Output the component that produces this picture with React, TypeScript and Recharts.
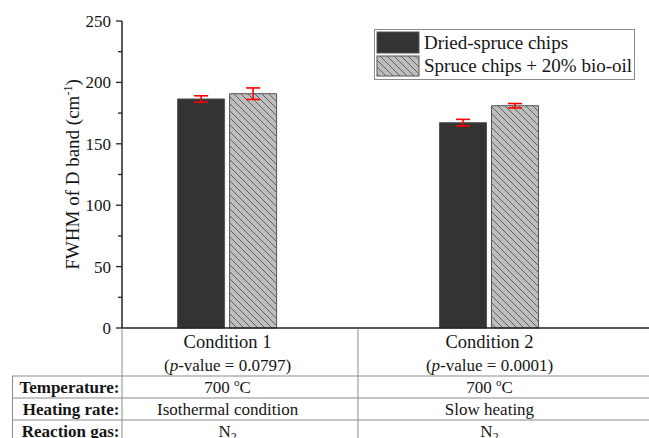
import React from 'react';
import { BarChart, Bar, XAxis, YAxis, ErrorBar, Legend } from 'recharts';

const categories = ['Condition 1', 'Condition 2'];
const pValues = ['0.0797', '0.0001'];
const driedSpruce = [186.5, 167.2];
const driedSpruceErr = [2.6, 2.7];
const bioOilBlend = [190.8, 181.0];
const bioOilBlendErr = [4.7, 1.8];
const temperatures = ['700', '700'];
const heatingRates = ['Isothermal condition', 'Slow heating'];
const reactionGases = ['N2', 'N2'];
const rowHeaders = ['Temperature:', 'Heating rate:', 'Reaction gas:'];
const seriesNames = ['Dried-spruce chips', 'Spruce chips + 20% bio-oil'];
const yTicks = [0, 25, 50, 75, 100, 125, 150, 175, 200, 225, 250];
const xPositions = [1, 2];

const data = categories.map((c, i) => ({
  pos: xPositions[i],
  name: c,
  dried: driedSpruce[i],
  driedErr: driedSpruceErr[i],
  oil: bioOilBlend[i],
  oilErr: bioOilBlendErr[i],
}));

const FONT = '"Liberation Serif", "Times New Roman", Times, serif';
const TXT = '#151515';
const serif = (size: number, extra: any = {}) => ({ fontFamily: FONT, fontSize: size, ...extra });

const renderFormula = (s: string) =>
  s.split(/(\d+)/).filter(Boolean).map((part, k) =>
    /\d/.test(part) ? (
      <tspan key={k} dy={4} style={{ fontSize: 12 }}>{part}</tspan>
    ) : (
      <tspan key={k}>{part}</tspan>
    )
  );

const CategoryTick = (props: any) => {
  const { x, y, payload } = props;
  const i = xPositions.indexOf(payload.value);
  if (i < 0) return null;
  return (
    <g>
      <text x={x} y={y + 20} textAnchor="middle" fill={TXT} style={serif(18.5)}>{categories[i]}</text>
      <text x={x} y={y + 43} textAnchor="middle" fill={TXT} style={serif(17)}>
        (<tspan style={{ fontStyle: 'italic' }}>p</tspan>-value = {pValues[i]})
      </text>
      <text x={x} y={y + 64.5} textAnchor="middle" fill={TXT} style={serif(17)}>
        {temperatures[i]} <tspan dy={-7} style={{ fontSize: 11 }}>o</tspan>
        <tspan dy={7}>C</tspan>
      </text>
      <text x={x} y={y + 86.5} textAnchor="middle" fill={TXT} style={serif(17)}>{heatingRates[i]}</text>
      <text x={x} y={y + 108.5} textAnchor="middle" fill={TXT} style={serif(17)}>{renderFormula(reactionGases[i])}</text>
    </g>
  );
};

const LeftTick = (props: any) => {
  const { x, y, payload } = props;
  const major = payload.value % 50 === 0;
  return (
    <g>
      <line x1={x - (major ? 6 : 4)} x2={x} y1={y} y2={y} stroke="#222" strokeWidth={1.3} />
      {major && (
        <text x={x - 11} y={y + 6} textAnchor="end" fill={TXT} style={serif(17)}>
          {payload.value}
        </text>
      )}
    </g>
  );
};

const RightTick = (props: any) => {
  const { x, y, payload } = props;
  const major = payload.value % 50 === 0;
  return (
    <line x1={x - (major ? 4 : 2)} x2={x} y1={y} y2={y} stroke={major ? '#222' : '#bbb'} strokeWidth={1.3} />
  );
};

const HatchDef = ({ id }: { id: string }) => (
  <pattern id={id} patternUnits="userSpaceOnUse" width={7} height={7}>
    <rect width={7} height={7} fill="#bdbdbd" />
    <path d="M-1,-1 L8,8 M-1,6 L1,8 M6,-1 L8,1" stroke="#4a4a4a" strokeWidth={0.8} />
  </pattern>
);

const LegendContent = () => (
  <svg width={262} height={52} style={{ display: 'block' }}>
    <defs>
      <HatchDef id="hatchLegend" />
    </defs>
    <rect x={0.5} y={0.5} width={260} height={50} fill="#fff" stroke="#8a8a8a" />
    <rect x={3} y={3} width={42} height={21} fill="#333333" stroke="#555" />
    <rect x={3} y={27} width={42} height={20} fill="url(#hatchLegend)" stroke="#555" />
    <text x={50} y={19.5} fill={TXT} style={serif(19)}>{seriesNames[0]}</text>
    <text x={50} y={43} fill={TXT} style={serif(19)}>{seriesNames[1]}</text>
  </svg>
);

const X_DOMAIN: [number, number] = [0.597, 2.609];

export default function App() {
  return (
    <div style={{ position: 'absolute', left: 0, top: 0, width: 649, height: 438, background: '#fff' }}>
      <BarChart
        width={649}
        height={438}
        data={data}
        margin={{ top: 21, right: 0, bottom: 0, left: 0 }}
        barSize={47}
        barGap={5}
      >
        <defs>
          <HatchDef id="hatchBar" />
        </defs>
        <XAxis
          xAxisId="bottom"
          dataKey="pos"
          type="number"
          domain={X_DOMAIN}
          allowDataOverflow
          ticks={xPositions}
          interval={0}
          height={110}
          tickSize={0}
          tickMargin={0}
          tickLine={false}
          axisLine={{ stroke: '#222', strokeWidth: 1.5 }}
          tick={<CategoryTick />}
        />
        <XAxis
          xAxisId="top"
          orientation="top"
          dataKey="pos"
          type="number"
          domain={X_DOMAIN}
          allowDataOverflow
          height={0}
          tick={false}
          tickLine={false}
          axisLine={{ stroke: '#222', strokeWidth: 1.5 }}
        />
        <YAxis
          yAxisId="left"
          domain={[0, 250]}
          ticks={yTicks}
          interval={0}
          width={122}
          tickSize={0}
          tickMargin={0}
          tickLine={false}
          axisLine={{ stroke: '#222', strokeWidth: 1.5 }}
          tick={<LeftTick />}
        />
        <YAxis
          yAxisId="right"
          orientation="right"
          domain={[0, 250]}
          ticks={yTicks}
          interval={0}
          width={0}
          tickSize={0}
          tickMargin={0}
          tickLine={false}
          axisLine={{ stroke: '#222', strokeWidth: 1.5 }}
          tick={<RightTick />}
        />
        <Legend
          layout="horizontal"
          verticalAlign="middle"
          align="center"
          content={<LegendContent />}
          wrapperStyle={{ position: 'absolute', left: 374, top: 29, width: 262, height: 52 }}
        />
        <Bar
          xAxisId="bottom"
          yAxisId="left"
          dataKey="dried"
          name={seriesNames[0]}
          fill="#333333"
          stroke="#555"
          strokeWidth={1}
          isAnimationActive={false}
        >
          <ErrorBar dataKey="driedErr" width={7} stroke="#ff0000" strokeWidth={1.6} direction="y" />
        </Bar>
        <Bar
          xAxisId="bottom"
          yAxisId="left"
          dataKey="oil"
          name={seriesNames[1]}
          fill="url(#hatchBar)"
          stroke="#555"
          strokeWidth={1}
          isAnimationActive={false}
        >
          <ErrorBar dataKey="oilErr" width={7} stroke="#ff0000" strokeWidth={1.6} direction="y" />
        </Bar>
      </BarChart>
      <svg
        width={649}
        height={438}
        style={{ position: 'absolute', left: 0, top: 0, pointerEvents: 'none' }}
      >
        <text
          transform="rotate(-90)"
          x={-174.5}
          y={79}
          textAnchor="middle"
          fill={TXT}
          style={serif(19)}
        >
          FWHM of D band (cm<tspan dy={-7} style={{ fontSize: 12 }}>-1</tspan>
          <tspan dy={7}>)</tspan>
        </text>
        <g stroke="#8a8a8a" strokeWidth={1}>
          <line x1={122} x2={122} y1={329} y2={438} />
          <line x1={358} x2={358} y1={329} y2={438} />
          <line x1={12.5} x2={12.5} y1={376} y2={438} />
          <line x1={12} x2={649} y1={376} y2={376} />
          <line x1={12} x2={649} y1={398} y2={398} />
          <line x1={12} x2={649} y1={420} y2={420} />
        </g>
        {rowHeaders.map((h, k) => (
          <text
            key={h}
            x={119.5}
            y={392.5 + k * 22}
            textAnchor="end"
            fill={TXT}
            style={serif(17, { fontWeight: 'bold' })}
          >
            {h}
          </text>
        ))}
      </svg>
    </div>
  );
}
